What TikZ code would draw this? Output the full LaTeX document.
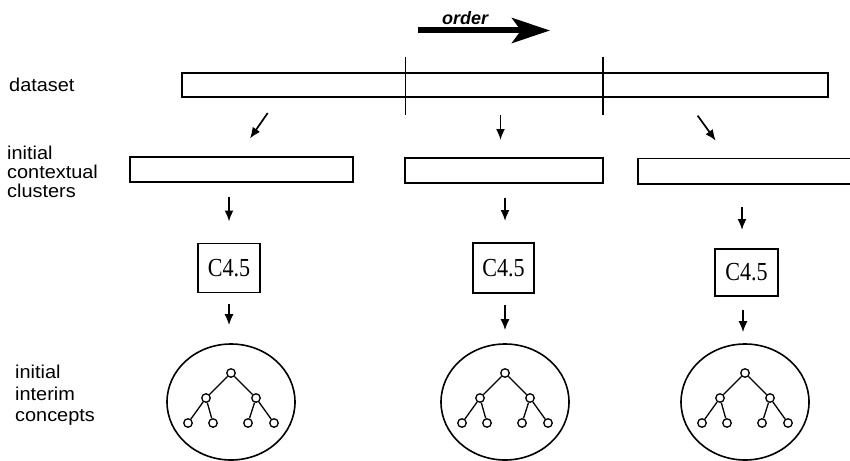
\documentclass[tikz,border=0pt]{standalone}
\usepackage{fontspec}
\setmainfont{Liberation Sans}[FakeStretch=1.07]
\newfontfamily\ordfont{Liberation Sans}
\newfontfamily\serifc{Liberation Serif}[FakeStretch=0.85]
\usetikzlibrary{arrows.meta,shapes.geometric}

\tikzset{
	box/.style={draw, line width=1.6pt, inner sep=0pt, outer sep=0pt},
	flow/.style={-{Latex[length=11pt,width=9pt]}, line width=1.7pt},
	knot/.style={draw, circle, line width=1.3pt, inner sep=0pt, minimum size=8.5pt, fill=white},
	lbl/.style={align=left, inner sep=0pt, font=\fontsize{18.6}{18.7}\selectfont},
	alg/.style={box, font=\serifc\fontsize{26}{28}\selectfont}
}

\begin{document}
\begin{tikzpicture}[x=1pt, y=-1pt]
		\useasboundingbox (0,0) rectangle (850,460);

		% order arrow
		\node[anchor=base west, inner sep=0pt, font=\ordfont\fontsize{18}{20}\selectfont\bfseries\itshape] (order) at (442,25) {order};
		\draw[line width=6pt, -{Stealth[length=38pt,width=25pt,inset=9pt]}] (418,30.5) -- (550,30.5);

		% labels
		\node[anchor=base west, inner sep=0pt, font=\fontsize{18.6}{18.7}\selectfont] (lbldata) at (9,91.7) {dataset};
		\node[lbl, anchor=north west] (lblclu) at (7,146) {initial\\contextual\\clusters};
		\node[lbl, anchor=north west, font=\fontsize{18.6}{21.4}\selectfont] (lblcon) at (15,365) {initial\\interim\\concepts};

		% dataset
		\node[box, minimum width=646.3pt, minimum height=24.5pt] (data) at (504.85,85) {};
		\draw[line width=1.6pt] (405.6,57) -- (405.6,115);
		\draw[line width=1.6pt] (603,57) -- (603,115);

		% clusters
		\node[box, minimum width=222.7pt, minimum height=25pt] (clu1) at (241.35,169.2) {};
		\node[box, minimum width=197.7pt, minimum height=25pt] (clu2) at (503.85,170.2) {};
		\node[box, minimum width=220pt, minimum height=25.7pt] (clu3) at (747.7,171.2) {};

		\coordinate (s1) at (267.7,113);  \coordinate (e1) at (250,138.5);
		\coordinate (s2) at (500.5,115);  \coordinate (e2) at (500.5,140);
		\coordinate (s3) at (697.7,115.7);\coordinate (e3) at (715.7,140.7);
		\draw[flow] (s1) -- (e1);
		\draw[flow] (s2) -- (e2);
		\draw[flow] (s3) -- (e3);

		% C4.5
		\node[alg, minimum width=62pt, minimum height=49pt] (alg1) at (229,268) {C4.5};
		\node[alg, minimum width=61pt, minimum height=50pt] (alg2) at (503.5,268) {C4.5};
		\node[alg, minimum width=63pt, minimum height=47pt] (alg3) at (746.5,272.5) {C4.5};

		\draw[flow, shorten <=15pt, shorten >=22pt] (clu1.south -| alg1.north) -- (alg1.north);
		\draw[flow, shorten <=15pt, shorten >=22pt] (clu2.south -| 505,0) -- (alg2.north -| 505,0);
		\draw[flow, shorten <=23pt, shorten >=19pt] (clu3.south -| 742,0) -- (alg3.north -| 742,0);

		% interim concepts
		\foreach \cx/\i in {231/1, 505/2, 745/3} {
			\node[draw, ellipse, line width=1.6pt, inner sep=0pt, minimum width=128pt, minimum height=116pt] (con\i) at (\cx,402) {};
			\node[knot] (r\i) at (\cx,373) {};
			\node[knot] (a\i) at (\cx-25,398) {};
			\node[knot] (b\i) at (\cx+25,398) {};
			\node[knot] (aa\i) at (\cx-43,423) {};
			\node[knot] (ab\i) at (\cx-18,423) {};
			\node[knot] (ba\i) at (\cx+17,423) {};
			\node[knot] (bb\i) at (\cx+43,423) {};
			\draw[line width=1.3pt] (r\i) -- (a\i) (r\i) -- (b\i)
				(a\i) -- (aa\i) (a\i) -- (ab\i) (b\i) -- (ba\i) (b\i) -- (bb\i);
		}

		\draw[flow, shorten <=11pt, shorten >=18pt] (alg1.south) -- (con1.north -| alg1.south);
		\draw[flow, shorten <=12pt, shorten >=13pt] (alg2.south -| 505,0) -- (con2.north);
		\draw[flow, shorten <=14pt, shorten >=11pt] (alg3.south -| 743,0) -- (con3.north -| 743,0);
	\end{tikzpicture}
\end{document}
